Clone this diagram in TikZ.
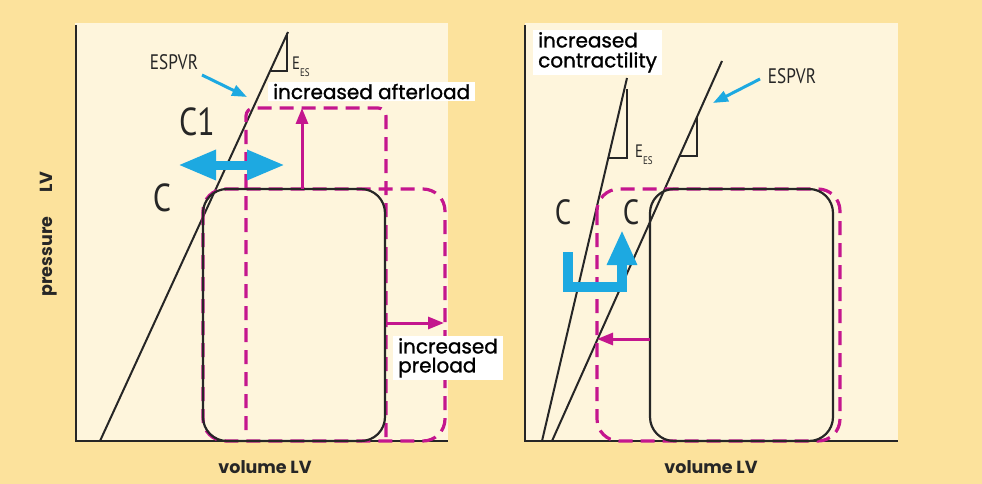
\documentclass[tikz,border=0pt]{standalone}
\usepackage{fontspec}
\setmainfont{Poppins}
\newfontfamily\condf[FakeStretch=0.82]{PT Sans}
\newfontfamily\labf[FakeBold=1.2]{Poppins}
\usetikzlibrary{arrows.meta}
\definecolor{bgout}{HTML}{FCE29C}
\definecolor{panel}{HTML}{FEF5DC}
\definecolor{mag}{HTML}{C4168E}
\definecolor{sky}{HTML}{1DA9E1}
\definecolor{ink}{HTML}{262626}
\tikzset{
  axisline/.style={draw=ink, line width=2.4pt},
  blk/.style={draw=ink, line width=2pt},
  loopline/.style={draw=ink, line width=2.2pt, rounded corners=24pt},
  dsh/.style={draw=mag, line width=3.2pt, dash pattern=on 14pt off 8pt},
  marr/.style={draw=mag, line width=3pt, -{Triangle[width=12pt,length=16pt]}},
  barr/.style={draw=sky, line width=3pt, -{Triangle[width=11pt,length=15pt]}},
  condlab/.style={inner sep=0pt, text=ink, font=\condf\fontsize{21}{21}\selectfont},
  bigc/.style={inner sep=0pt, text=ink, font=\condf\fontsize{39}{39}\selectfont},
  eeslab/.style={inner sep=0pt, text=ink, font=\condf\fontsize{18}{18}\selectfont},
  labbox/.style={fill=white, inner xsep=5pt, inner ysep=2pt, text=black, align=left,
     font=\labf\fontsize{20}{20}\selectfont},
  axlab/.style={inner sep=0pt, text=ink, font=\bfseries\fontsize{17.5}{17.5}\selectfont}
}
\begin{document}
\begin{tikzpicture}[x=1pt,y=-1pt]
\fill[bgout] (0,0) rectangle (982,484);
\useasboundingbox (0,0) rectangle (982,484);
% panels
\fill[panel] (75,23) rectangle (448,441);
\fill[panel] (525,23) rectangle (898,441);
% ===== left panel =====
\coordinate (LA0) at (76,25);
\coordinate (LA1) at (76,441);
\coordinate (LA2) at (448,441);
\draw[axisline] (LA0) -- (LA1) -- (LA2);
% ESPVR line
\coordinate (L0) at (100,441);
\coordinate (L1) at (288,32);
\draw[blk] (L0) -- (L1);
\coordinate (LT1) at (270,71);
\coordinate (LT2) at (287,71);
\coordinate (LT3) at (287,33);
\draw[blk] (LT1) -- (LT2) -- (LT3);
% dashed loops
\coordinate (AF0) at (246,430);
\coordinate (AF1) at (246,108);
\coordinate (AF2) at (386,108);
\coordinate (AF3) at (386,441);
\draw[dsh, rounded corners=8pt] (AF0) -- (AF1) -- (AF2) -- (AF3);
\coordinate (PL0) at (203,189);
\coordinate (PL1) at (445,441);
\draw[dsh, rounded corners=22pt] (PL0) rectangle (PL1);
% solid loop
\coordinate (SL0) at (203,189);
\coordinate (SL1) at (385,441);
\draw[loopline] (SL0) rectangle (SL1);
% magenta arrows
\coordinate (MA0) at (302,189);
\coordinate (MA1) at (302,108);
\draw[marr] (MA0) -- (MA1);
\coordinate (MB0) at (386,323);
\coordinate (MB1) at (444,323);
\draw[marr] (MB0) -- (MB1);
% blue arrows
\coordinate (BA0) at (202,75);
\coordinate (BA1) at (247,97);
\draw[barr] (BA0) -- (BA1);
\coordinate (BD0) at (178,165);
\coordinate (BD1) at (285,165);
\draw[draw=sky, line width=9pt, {Triangle[width=28pt,length=38pt]}-{Triangle[width=28pt,length=38pt]}] (BD0) -- (BD1);
% texts
\node[condlab] (espvrL) at (174,62) {ESPVR};
\node[eeslab, anchor=north west] (eesL) at (292,57) {E\raisebox{-0.35em}{\fontsize{11}{11}\selectfont ES}};
\node[labbox, anchor=west] (afterload) at (268,91.5) {increased afterload};
\node[bigc] (c1) at (197,122) {C1};
\node[bigc] (cL) at (162,198) {C};
\node[labbox, anchor=north west, font=\labf\fontsize{20}{19}\selectfont] (preload) at (393,336) {increased\\preload};
\node[axlab, rotate=90] (presslab) at (49,234) {pressure\hspace{24pt}LV};
\node[axlab] (volL) at (265,467) {volume LV};
% ===== right panel =====
\coordinate (RA0) at (525,25);
\coordinate (RA1) at (525,441);
\coordinate (RA2) at (898,441);
\draw[axisline] (RA0) -- (RA1) -- (RA2);
\coordinate (R0) at (542,441);
\coordinate (R1) at (627,78);
\draw[blk] (R0) -- (R1);
\coordinate (RT1) at (608,158);
\coordinate (RT2) at (627,158);
\coordinate (RT3) at (627,89);
\draw[blk] (RT1) -- (RT2) -- (RT3);
\coordinate (S0) at (552,441);
\coordinate (S1) at (722,61);
\draw[blk] (S0) -- (S1);
\coordinate (ST1) at (680,156);
\coordinate (ST2) at (697,156);
\coordinate (ST3) at (697,117);
\draw[blk] (ST1) -- (ST2) -- (ST3);
\coordinate (RD0) at (597,189);
\coordinate (RD1) at (840,441);
\draw[dsh, rounded corners=22pt] (RD0) rectangle (RD1);
\coordinate (RS0) at (650,189);
\coordinate (RS1) at (833,441);
\draw[loopline] (RS0) rectangle (RS1);
\coordinate (MC0) at (650,339);
\coordinate (MC1) at (597,339);
\draw[marr] (MC0) -- (MC1);
\coordinate (BR0) at (760,79);
\coordinate (BR1) at (713,103);
\draw[barr] (BR0) -- (BR1);
% L arrow
\coordinate (BL0) at (568,252);
\coordinate (BL1) at (568,287);
\coordinate (BL2) at (622,287);
\coordinate (BL3) at (622,230);
\draw[draw=sky, line width=10pt, line join=miter, -{Triangle[width=28pt,length=35pt]}] (BL0) -- (BL1) -- (BL2) -- (BL3);
\node[labbox, anchor=north west] (contract) at (533,30) {increased\\contractility};
\node[condlab] (espvrR) at (792,76) {ESPVR};
\node[eeslab, anchor=north west] (eesR) at (635,145) {E\raisebox{-0.35em}{\fontsize{11}{11}\selectfont ES}};
\node[bigc, font=\condf\fontsize{35}{35}\selectfont] (cR1) at (563,212) {C};
\node[bigc, font=\condf\fontsize{35}{35}\selectfont] (cR2) at (631,212) {C};
\node[axlab] (volR) at (711,467) {volume LV};
\end{tikzpicture}
\end{document}
